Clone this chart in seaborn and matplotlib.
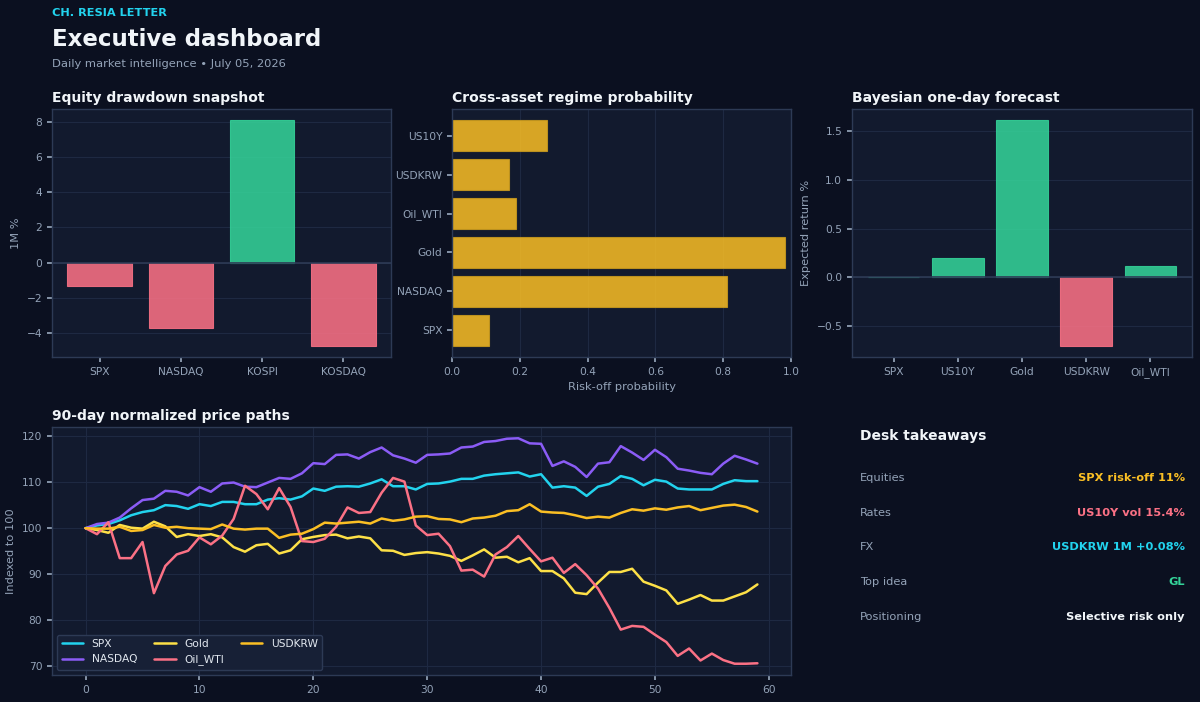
import pandas as pd
import matplotlib
matplotlib.use("Agg")
import matplotlib.pyplot as plt
import seaborn as sns

# colours
BG = "#0b1020"
PANEL = "#121a2e"
EDGE = "#2d3a55"
GRID = "#1e2942"
MUTED = "#94a3b8"
WHITE = "#f1f5f9"
GREEN = "#34d399"
RED = "#fb7185"
AMBER = "#fbbf24"
CYAN = "#22d3ee"

# equity drawdown snapshot
eq_names = ["SPX", "NASDAQ", "KOSPI", "KOSDAQ"]
eq_vals = [-1.31, -3.70, 8.08, -4.72]

# regime probability (top to bottom)
reg_names = ["US10Y", "USDKRW", "Oil_WTI", "Gold", "NASDAQ", "SPX"]
reg_vals = [0.28, 0.169, 0.188, 0.983, 0.812, 0.108]

# bayesian forecast
fc_names = ["SPX", "US10Y", "Gold", "USDKRW", "Oil_WTI"]
fc_vals = [0.0, 0.198, 1.609, -0.70, 0.12]

# 90-day normalized price paths
days = list(range(60))
spx = [100, 100.6, 100.9, 101.7, 102.8, 103.5, 103.9, 105.0, 104.8, 104.2,
       105.2, 104.8, 105.7, 105.7, 105.2, 105.2, 106.2, 106.5, 106.2, 106.9,
       108.6, 108.1, 109.0, 109.1, 109.0, 109.7, 110.6, 109.1, 109.1, 108.4,
       109.6, 109.7, 110.1, 110.7, 110.7, 111.4, 111.7, 111.9, 112.1, 111.2,
       111.7, 108.8, 109.1, 108.8, 107.0, 109.0, 109.6, 111.3, 110.7, 109.3,
       110.5, 110.1, 108.6, 108.4, 108.4, 108.4, 109.6, 110.4, 110.2, 110.2]
nasdaq = [100, 100.9, 101.2, 102.3, 104.3, 106.1, 106.4, 108.1, 107.9, 107.1,
          108.9, 107.9, 109.7, 109.9, 109.0, 108.9, 109.9, 110.9, 110.7, 111.9,
          114.1, 113.9, 115.9, 116.0, 115.1, 116.5, 117.5, 115.8, 115.1, 114.2,
          115.9, 116.0, 116.2, 117.5, 117.7, 118.7, 118.9, 119.4, 119.5, 118.4,
          118.3, 113.5, 114.5, 113.3, 111.1, 114.0, 114.3, 117.8, 116.4, 114.8,
          117.0, 115.4, 112.9, 112.5, 112.0, 111.7, 114.0, 115.7, 114.9, 114.0]
gold = [100, 99.6, 99.0, 100.7, 100.1, 99.9, 101.4, 100.4, 98.1, 98.7,
        98.3, 98.7, 98.0, 95.9, 94.9, 96.3, 96.6, 94.5, 95.2, 97.6,
        98.1, 98.5, 98.6, 97.8, 98.2, 97.8, 95.2, 95.1, 94.2, 94.6,
        94.8, 94.5, 94.0, 92.9, 94.1, 95.4, 93.6, 93.8, 92.6, 93.5,
        90.7, 90.7, 89.1, 86.0, 85.7, 88.2, 90.5, 90.5, 91.2, 88.4,
        87.5, 86.5, 83.6, 84.5, 85.5, 84.3, 84.3, 85.2, 86.1, 87.8]
oil = [100, 98.7, 101.3, 93.5, 93.5, 97.0, 85.9, 91.8, 94.3, 95.1,
       98.0, 96.5, 98.4, 102.0, 109.2, 107.4, 104.1, 108.7, 104.6, 97.2,
       97.0, 97.7, 100.3, 104.5, 103.3, 103.5, 107.7, 110.9, 110.1, 100.6,
       98.5, 98.8, 96.1, 90.8, 91.0, 89.5, 94.3, 95.9, 98.3, 95.5,
       92.8, 93.6, 90.3, 92.2, 89.8, 86.9, 82.7, 78.0, 78.8, 78.6,
       76.9, 75.3, 72.3, 73.9, 71.3, 72.8, 71.4, 70.6, 70.6, 70.7]
usdkrw = [100, 99.9, 99.9, 100.3, 99.4, 99.6, 100.7, 100.1, 100.3, 100.0,
          99.9, 99.8, 100.8, 99.9, 99.7, 99.9, 99.9, 97.9, 98.6, 98.8,
          99.8, 101.2, 101.0, 101.2, 101.4, 101.0, 102.1, 101.6, 101.9, 102.5,
          102.6, 102.0, 101.9, 101.3, 102.1, 102.3, 102.7, 103.7, 103.9, 105.2,
          103.6, 103.4, 103.3, 102.8, 102.2, 102.5, 102.3, 103.3, 104.1, 103.8,
          104.3, 104.0, 104.5, 104.8, 103.9, 104.4, 104.9, 105.1, 104.6, 103.6]

series_names = ["SPX", "NASDAQ", "Gold", "Oil_WTI", "USDKRW"]
line_colors = {"SPX": CYAN, "NASDAQ": "#8b5cf6", "Gold": "#fde047",
               "Oil_WTI": RED, "USDKRW": AMBER}

# desk takeaways
take_labels = ["Equities", "Rates", "FX", "Top idea", "Positioning"]
take_values = ["SPX risk-off 11%", "US10Y vol 15.4%", "USDKRW 1M +0.08%", "GL",
               "Selective risk only"]
take_colors = [AMBER, RED, CYAN, GREEN, WHITE]

sns.set_theme(style="darkgrid", rc={
    "figure.facecolor": BG,
    "axes.facecolor": PANEL,
    "axes.edgecolor": EDGE,
    "axes.linewidth": 1.0,
    "grid.color": GRID,
    "grid.linewidth": 0.8,
    "text.color": WHITE,
    "axes.labelcolor": MUTED,
    "xtick.color": MUTED,
    "ytick.color": MUTED,
    "xtick.bottom": True,
    "ytick.left": True,
    "xtick.major.size": 3.5,
    "ytick.major.size": 3.5,
    "xtick.labelsize": 7.7,
    "ytick.labelsize": 7.7,
    "axes.labelsize": 8.2,
})
plt.rcParams["font.family"] = ["DejaVu Sans"]

fig = plt.figure(figsize=(12, 7.02), dpi=100)
W, H = 1200, 702


def box(l, t, r, b):
    return [l / W, 1 - b / H, (r - l) / W, (b - t) / H]


ax1 = fig.add_axes(box(52, 109, 391, 357))
ax2 = fig.add_axes(box(452, 109, 791, 357))
ax3 = fig.add_axes(box(852, 109, 1192, 357))
ax4 = fig.add_axes(box(52, 427, 791, 675))

title_kw = dict(loc="left", fontsize=10, fontweight="bold", color=WHITE, pad=5)

# panel 1
eq_cols = [GREEN if v >= 0 else RED for v in eq_vals]
sns.barplot(x=eq_names, y=eq_vals, hue=eq_names, palette=eq_cols, legend=False,
            saturation=1, width=0.8, alpha=0.87, linewidth=0.8, ax=ax1)
ax1.axhline(0, color=EDGE, lw=1.2)
ax1.set_xlim(-0.59, len(eq_names) - 0.41)
ax1.set_ylabel("1M %")
ax1.set_title("Equity drawdown snapshot", **title_kw)

# panel 2
sns.barplot(x=reg_vals, y=reg_names, orient="h", color=AMBER, saturation=1,
            width=0.8, alpha=0.85, edgecolor="#c99a1e", linewidth=0.8, ax=ax2)
ax2.set_xlim(0, 1)
ax2.set_ylim(len(reg_names) - 0.31, -0.69)
ax2.set_xlabel("Risk-off probability")
ax2.set_ylabel("")
ax2.set_title("Cross-asset regime probability", **title_kw)

# panel 3
fc_cols = [GREEN if v >= 0 else RED for v in fc_vals]
sns.barplot(x=fc_names, y=fc_vals, hue=fc_names, palette=fc_cols, legend=False,
            saturation=1, width=0.8, alpha=0.87, linewidth=0.8, ax=ax3)
ax3.axhline(0, color=EDGE, lw=1.2)
ax3.set_xlim(-0.65, len(fc_names) - 0.35)
ax3.set_ylabel("Expected return %")
ax3.set_title("Bayesian one-day forecast", **title_kw)

for ax in (ax1, ax3):
    for p in ax.patches:
        p.set_edgecolor(p.get_facecolor())

# panel 4
paths = pd.DataFrame({"day": days, "SPX": spx, "NASDAQ": nasdaq, "Gold": gold,
                      "Oil_WTI": oil, "USDKRW": usdkrw})
long = paths.melt(id_vars="day", var_name="asset", value_name="value")
sns.lineplot(data=long, x="day", y="value", hue="asset", hue_order=series_names,
             palette=line_colors, linewidth=1.8, ax=ax4)
ax4.set_xlabel("")
ax4.set_ylabel("Indexed to 100")
ax4.set_title("90-day normalized price paths", **title_kw)
sns.move_legend(ax4, "lower left", ncol=3, title=None, frameon=True,
                fontsize=7.7, facecolor="#172036", edgecolor=EDGE, framealpha=1,
                labelcolor="#e2e8f0", columnspacing=1.6)

for ax in (ax1, ax2, ax3, ax4):
    for s in ax.spines.values():
        s.set_visible(True)
        s.set_color(EDGE)
    ax.set_axisbelow(True)

# header
fig.text(52 / W, 1 - 13 / H, "CH. RESIA LETTER", color=CYAN, fontsize=8.2,
         fontweight="bold", va="center")
fig.text(52 / W, 1 - 39 / H, "Executive dashboard", color=WHITE, fontsize=16.5,
         fontweight="bold", va="center")
fig.text(52 / W, 1 - 64 / H, "Daily market intelligence \u2022 July 05, 2026",
         color=MUTED, fontsize=8.25, va="center")

# takeaways
fig.text(860 / W, 1 - 436 / H, "Desk takeaways", color=WHITE, fontsize=10,
         fontweight="bold", va="center")
for i, (lab, val, col) in enumerate(zip(take_labels, take_values, take_colors)):
    y = 1 - (478 + i * 34.7) / H
    fig.text(860 / W, y, lab, color=MUTED, fontsize=8.2, va="center")
    fig.text(1185 / W, y, val, color=col, fontsize=8.2, fontweight="bold",
             va="center", ha="right")

fig.savefig("out.png", dpi=100, facecolor=BG)
